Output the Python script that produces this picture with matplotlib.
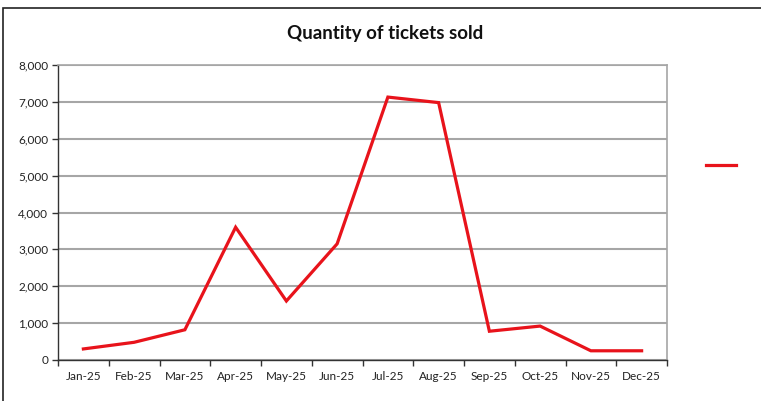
import matplotlib
matplotlib.use('Agg')
import matplotlib.pyplot as plt
from matplotlib.patches import Rectangle
from matplotlib.ticker import FuncFormatter, FixedLocator

months = ['Jan-25', 'Feb-25', 'Mar-25', 'Apr-25', 'May-25', 'Jun-25',
          'Jul-25', 'Aug-25', 'Sep-25', 'Oct-25', 'Nov-25', 'Dec-25']
tickets = [300, 480, 820, 3600, 1600, 3150, 7130, 6980, 780, 920, 250, 250]

plt.rcParams['font.family'] = ['Lato', 'DejaVu Sans']

W, H = 761, 401
fig = plt.figure(figsize=(W / 100, H / 100), dpi=100)
ax = fig.add_axes([58 / W, 1 - 360 / H, (667 - 58) / W, (360 - 65) / H])

# outer chart border (right and bottom edges fall outside the crop)
fig.add_artist(Rectangle((3 / W, -0.05), 1.2, 1.05 - 8 / H, transform=fig.transFigure,
                         fill=False, edgecolor='#222222', linewidth=1.2))

x = list(range(len(months)))
ax.plot(x, tickets, color='#e8131b', linewidth=2.3, label=' ', solid_joinstyle='miter')

ax.set_xlim(-0.5, len(months) - 0.5)
ax.set_ylim(0, 8000)
ax.set_yticks(range(0, 8001, 1000))
ax.yaxis.set_major_formatter(FuncFormatter(lambda v, p: f'{int(v):,}'))
ax.set_xticks(x)
ax.set_xticklabels(months)
ax.xaxis.set_minor_locator(FixedLocator([i - 0.5 for i in range(len(months) + 1)]))
ax.tick_params(axis='x', which='major', length=0, pad=8, labelsize=8.5, colors='#222222')
ax.tick_params(axis='x', which='minor', length=4, width=1.0, color='#333333')
ax.tick_params(axis='y', length=4, width=1.0, color='#333333', labelsize=8.5,
               labelcolor='#222222', pad=3)

ax.grid(axis='y', color='#a6a6a6', linewidth=1.5)
ax.set_axisbelow(True)
for side in ['top', 'right']:
    ax.spines[side].set_color('#a6a6a6')
    ax.spines[side].set_linewidth(1.2)
ax.spines['left'].set_color('#333333')
ax.spines['bottom'].set_color('#333333')
ax.spines['left'].set_linewidth(1.0)
ax.spines['bottom'].set_linewidth(1.0)

fig.text(385 / W, 1 - 34 / H, 'Quantity of tickets sold', ha='center', va='center',
         fontsize=13.5, weight='bold', color='#111111')

ax.legend(loc='center left', bbox_to_anchor=(698 / W, 1 - 165 / H),
          bbox_transform=fig.transFigure, frameon=False, handlelength=3.6,
          handletextpad=0.2, fontsize=6)

fig.savefig('out.png', dpi=100, facecolor='white')
